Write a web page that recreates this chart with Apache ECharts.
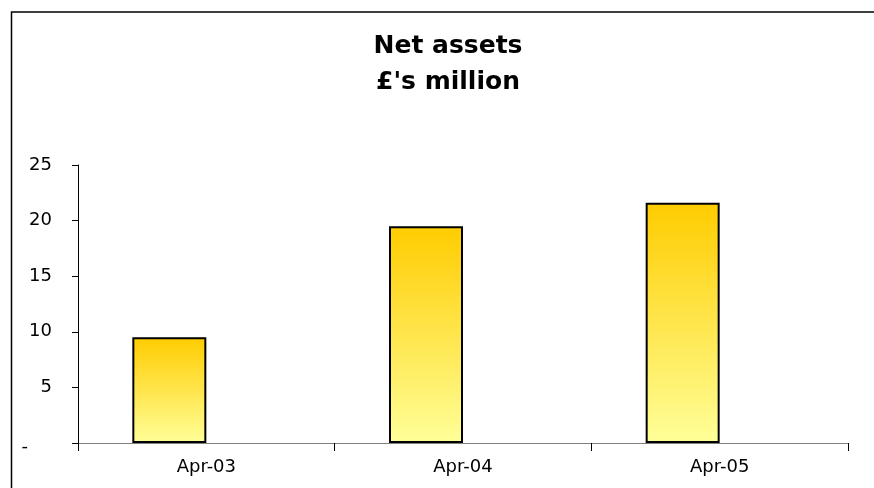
<!DOCTYPE html>
<html>
<head>
<meta charset="utf-8">
<script src="https://cdn.jsdelivr.net/npm/echarts@6/dist/echarts.min.js"></script>
<style>
html,body{margin:0;padding:0;background:#fff;}
#chart{width:874px;height:488px;}
</style>
</head>
<body>
<div id="chart"></div>
<script>
var categories = ['Apr-03', 'Apr-04', 'Apr-05'];
var netAssets = [9.5, 19.5, 21.6];
var emptySeries = [null, null, null];
var titleLines = ['Net assets', "£'s million"];
var yTicks = {min: 0, max: 25, interval: 5};

var chart = echarts.init(document.getElementById('chart'));
var font = 'DejaVu Sans';
chart.setOption({
  animation: false,
  backgroundColor: '#ffffff',
  title: {
    text: titleLines.join('\n'),
    left: 443,
    top: 23,
    textAlign: 'center',
    textStyle: {fontFamily: font, fontWeight: 'bold', fontSize: 25, lineHeight: 36, color: '#000'}
  },
  graphic: [{
    type: 'rect',
    shape: {x: 11.5, y: 12, width: 900, height: 900},
    style: {fill: 'none', stroke: '#000', lineWidth: 1.5},
    silent: true
  }],
  grid: {left: 78, right: 26, top: 165, bottom: 45, containLabel: false},
  xAxis: {
    type: 'category',
    data: categories,
    axisLine: {lineStyle: {color: '#808080', width: 1}},
    axisTick: {show: true, inside: false, length: 8, lineStyle: {color: '#000'}},
    axisLabel: {fontFamily: font, fontSize: 18, color: '#000', margin: 15},
    splitLine: {show: false}
  },
  yAxis: {
    type: 'value',
    min: yTicks.min, max: yTicks.max, interval: yTicks.interval,
    axisLine: {show: true, lineStyle: {color: '#000', width: 1}},
    axisTick: {show: true, inside: false, length: 6, lineStyle: {color: '#000'}},
    splitLine: {show: false},
    axisLabel: {
      fontFamily: font, fontSize: 18, color: '#000', margin: 26,
      formatter: function (v) { return v === 0 ? '{d|-}' : String(v); },
      rich: {d: {fontFamily: font, fontSize: 18, color: '#000', padding: [8, 24, 0, 0]}}
    }
  },
  series: [{
    type: 'bar',
    data: netAssets,
    barWidth: 74,
    barGap: '0%',
    itemStyle: {
      borderColor: '#000',
      borderWidth: 2,
      color: new echarts.graphic.LinearGradient(0, 0, 0, 1, [
        {offset: 0, color: '#FFCC00'},
        {offset: 1, color: '#FFFF99'}
      ])
    }
  }, {
    type: 'bar',
    data: emptySeries,
    barWidth: 74,
    barGap: '0%'
  }]
});
</script>
</body>
</html>
